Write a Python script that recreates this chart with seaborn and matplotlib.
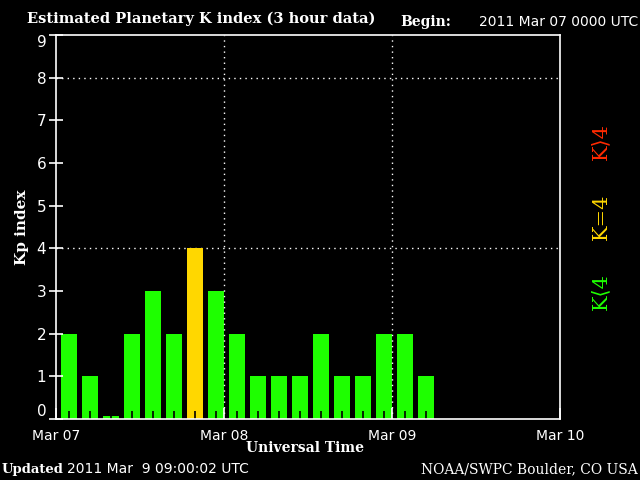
import matplotlib
matplotlib.use("Agg")
import matplotlib.pyplot as plt
import seaborn as sns
import pandas as pd

# ---- data ----
start_hours = [0, 3, 6, 9, 12, 15, 18, 21, 24, 27, 30, 33, 36, 39, 42, 45, 48, 51]
kp_values = [2, 1, 0.07, 2, 3, 2, 4, 3, 2, 1, 1, 1, 2, 1, 1, 2, 2, 1]
day_ticks = [0, 1, 2, 3]
day_labels = ["Mar 07", "Mar 08", "Mar 09", "Mar 10"]
y_ticks = [0, 1, 2, 3, 4, 5, 6, 7, 8, 9]
grid_levels = [4, 8]
grid_days = [1, 2]

GREEN = "#1eff00"
YELLOW = "#ffd700"
RED = "#ff2a00"

def level(v):
    if v < 4:
        return "low"
    if v == 4:
        return "storm4"
    return "high"

df = pd.DataFrame({
    "day": [(h + 1.86) / 24.0 for h in start_hours],
    "kp": kp_values,
})
df["cls"] = [level(v) for v in kp_values]
palette = {"low": GREEN, "storm4": YELLOW, "high": RED}

fig = plt.figure(figsize=(6.4, 4.8), dpi=100, facecolor="black")
ax = fig.add_axes([56/640, 1 - 419/480, (560-56)/640, (419-35)/480])
ax.set_facecolor("black")

sns.barplot(data=df, x="day", y="kp", hue="cls", palette=palette,
            native_scale=True, dodge=False, width=0.76, legend=False,
            saturation=1, linewidth=0, ax=ax)

ax.set_xlim(0, 3)
ax.set_ylim(0, 9)

for g in grid_levels:
    ax.axhline(g, color="white", linestyle=(0, (1, 3)), linewidth=1, zorder=0.5)
for d in grid_days:
    ax.axvline(d, color="white", linestyle=(0, (1, 3)), linewidth=1, zorder=3)

for s in ax.spines.values():
    s.set_color("white")
    s.set_linewidth(1.2)

ax.set_xticks(day_ticks)
ax.set_xticklabels(day_labels)
ax.set_xticks(list(df["day"]), minor=True)
ax.tick_params(axis="x", which="major", direction="in", length=8, width=1.2,
               colors="white", labelsize=10, pad=7)
ax.tick_params(axis="x", which="minor", direction="in", length=6, width=1.2,
               color="black")
ax.set_yticks(y_ticks)
ax.tick_params(axis="y", which="major", direction="inout", length=10, width=1.2,
               colors="white", labelsize=11, pad=2)
for lab in ax.get_xticklabels() + ax.get_yticklabels():
    lab.set_family("DejaVu Sans")
    lab.set_color("white")
yl = ax.get_yticklabels()
yl[0].set_verticalalignment("bottom")
yl[-1].set_verticalalignment("top")

ax.set_xlabel("")
ax.set_ylabel("")

serif = "DejaVu Serif"
fig.text(22/640, 1 - 227/480, "Kp index", rotation=90, color="white",
         family=serif, weight="bold", fontsize=11, ha="center", va="center")
fig.text(305/640, 1 - 448/480, "Universal Time", color="white",
         family=serif, weight="bold", fontsize=10, ha="center", va="center")
fig.text(27/640, 1 - 19/480, "Estimated Planetary K index (3 hour data)",
         color="white", family=serif, weight="bold", fontsize=10.5,
         ha="left", va="center")
fig.text(400/640, 1 - 22/480, "Begin:", color="white", family=serif,
         weight="bold", fontsize=10, ha="left", va="center")
fig.text(638/640, 1 - 22/480, "2011 Mar 07 0000 UTC", color="white",
         family="DejaVu Sans", fontsize=10, ha="right", va="center")
fig.text(2/640, 1 - 469/480, "Updated", color="white", family=serif,
         weight="bold", fontsize=9.5, ha="left", va="center")
fig.text(67/640, 1 - 469/480, "2011 Mar  9 09:00:02 UTC", color="white",
         family="DejaVu Sans", fontsize=10, ha="left", va="center")
fig.text(638/640, 1 - 469/480, "NOAA/SWPC Boulder, CO USA", color="white",
         family=serif, fontsize=10, ha="right", va="center")

fig.text(601/640, 1 - 292/480, "K\u27e84", rotation=90, color=GREEN,
         family=[serif, "DejaVu Sans"], fontsize=15, ha="center", va="center")
fig.text(601/640, 1 - 217/480, "K=4", rotation=90, color=YELLOW,
         family=[serif, "DejaVu Sans"], fontsize=15, ha="center", va="center")
fig.text(601/640, 1 - 142/480, "K\u27e94", rotation=90, color=RED,
         family=[serif, "DejaVu Sans"], fontsize=15, ha="center", va="center")

fig.savefig("out.png", dpi=100, facecolor="black")
